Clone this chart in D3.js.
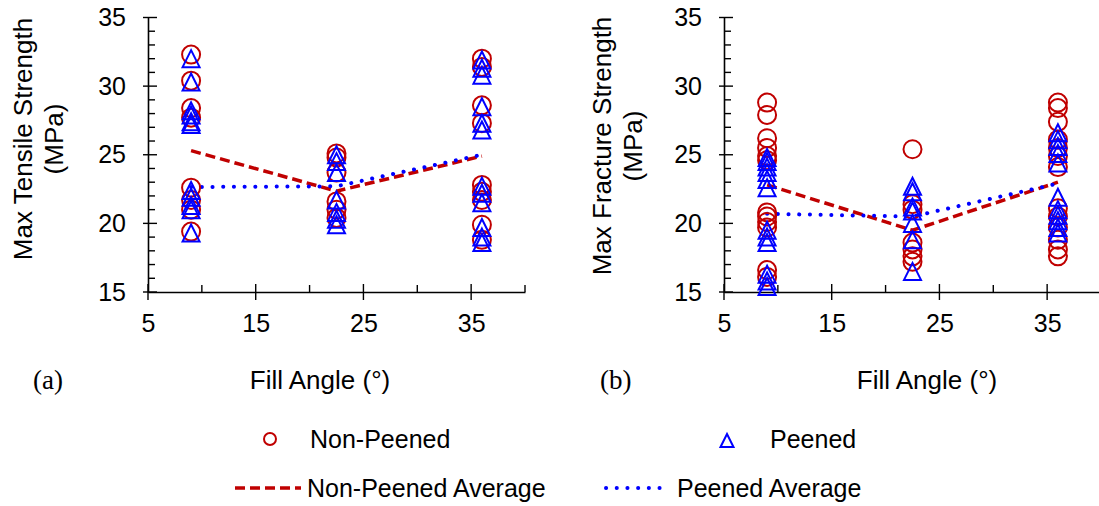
<!DOCTYPE html>
<html>
<head>
<meta charset="utf-8">
<script src="https://cdn.jsdelivr.net/npm/d3@7"></script>
<style>
	body { margin: 0; background: #fff; }
	svg text { font-family: "Liberation Sans", Arial, sans-serif; fill: #000; }
</style>
</head>
<body>
<svg id="chart" width="1099" height="506"></svg>
<script>
// Data: strengths (MPa) for each fill angle

var fillAngles = [9, 22.5, 36];
var xTicks = [5, 15, 25, 35];
var yTicks = [15, 20, 25, 30, 35];

	// (a) Max Tensile Strength
var tensileNonPeened = [
	[32.3, 30.4, 28.4, 27.7, 22.6, 21.7, 21.0, 19.4],
	[25.1, 24.8, 23.7, 21.6, 21.0, 20.4],
	[32.0, 31.4, 28.6, 27.3, 22.8, 22.3, 21.7, 19.9, 18.8]
];
var tensilePeened = [
	[32.0, 30.3, 28.2, 27.9, 27.4, 27.2, 22.4, 21.9, 21.3, 21.0, 19.3],
	[25.0, 24.5, 23.7, 21.7, 20.8, 20.3, 19.9],
	[31.9, 31.3, 30.8, 28.5, 27.3, 26.8, 22.7, 22.2, 21.5, 19.7, 19.0, 18.6]
];
var tensileNonPeenedAvg = [25.3, 22.35, 24.9];
var tensilePeenedAvg = [22.65, 22.7, 25.0];

	// (b) Max Fracture Strength
var fractureNonPeened = [
	[28.8, 27.9, 26.2, 25.5, 24.9, 24.6, 20.8, 20.5, 20.1, 19.7, 16.6, 16.1],
	[25.4, 21.4, 21.0, 18.6, 18.1, 17.6, 17.2],
	[28.8, 28.4, 27.4, 26.1, 25.5, 24.9, 24.1, 21.1, 20.5, 19.7, 18.8, 18.1, 17.6]
];
var fracturePeened = [
	[24.8, 24.5, 24.1, 23.7, 23.2, 22.6, 19.5, 19.0, 18.6, 16.3, 15.8, 15.4],
	[22.7, 22.3, 21.2, 20.9, 20.0, 18.8, 16.5],
	[26.6, 26.1, 25.6, 25.1, 24.4, 21.9, 21.0, 20.6, 20.2, 19.7, 19.3]
];
var fractureNonPeenedAvg = [22.8, 19.5, 23.0];
var fracturePeenedAvg = [20.7, 20.5, 22.9];

var RED = "#c00000", BLUE = "#0000ff";
var TRI = "M0,-8.5L8.5,8.5L-8.5,8.5Z";

var panels = [
	{ left: 148, right: 525, title: ["Max Tensile Strength", "(MPa)"], titleX: 32, titleY: 139,
	  xTitleX: 320, tag: "(a)", tagX: 33,
	  np: tensileNonPeened, p: tensilePeened, npAvg: tensileNonPeenedAvg, pAvg: tensilePeenedAvg },
	{ left: 724, right: 1101, title: ["Max Fracture Strength", "(MPa)"], titleX: 611, titleY: 146,
	  xTitleX: 927, tag: "(b)", tagX: 600,
	  np: fractureNonPeened, p: fracturePeened, npAvg: fractureNonPeenedAvg, pAvg: fracturePeenedAvg }
];

var svg = d3.select("#chart");

	// Flatten [angle][values] into {a, v} points
function flat(series)
{
	var out = [];
	series.forEach(function(vals, i) {
		vals.forEach(function(v) { out.push({ a: fillAngles[i], v: v }); });
	});
	return out;
} // flat()

function drawPanel(pn)
{
	var x = d3.scaleLinear().domain([5, 40]).range([pn.left, pn.right]);
	var y = d3.scaleLinear().domain([15, 35]).range([292, 17.5]);
	var g = svg.append("g");

		// Axes: labels + domain line from d3, ticks drawn below
	var yAxis = g.append("g").attr("transform", "translate(" + pn.left + ",0)")
		.call(d3.axisLeft(y).tickValues(yTicks).tickSize(0).tickPadding(22));
	var xAxis = g.append("g").attr("transform", "translate(0,292)")
		.call(d3.axisBottom(x).tickValues(xTicks).tickSize(0).tickPadding(22));
	[yAxis, xAxis].forEach(function(ax) {
		ax.select(".domain").attr("stroke", "#000").attr("stroke-width", 1.6);
		ax.selectAll("text").attr("font-size", 25).attr("font-family", "Liberation Sans, Arial, sans-serif").attr("fill", "#000");
	});
	xAxis.selectAll("text").attr("dy", "0.71em");

		// Minor + major ticks (major ones cross the axis)
	var yMinor = d3.range(16, 35, 1).filter(function(v) { return v % 5 !== 0; });
	g.selectAll(".ymin").data(yMinor).enter().append("line")
		.attr("x1", pn.left).attr("x2", pn.left + 7)
		.attr("y1", function(d) { return y(d); }).attr("y2", function(d) { return y(d); })
		.attr("stroke", "#000").attr("stroke-width", 1.4);
	g.selectAll(".ymaj").data(yTicks).enter().append("line")
		.attr("x1", pn.left - 5).attr("x2", pn.left + 9)
		.attr("y1", function(d) { return y(d); }).attr("y2", function(d) { return y(d); })
		.attr("stroke", "#000").attr("stroke-width", 1.4);
	g.selectAll(".xmin").data([10, 20, 30, 40]).enter().append("line")
		.attr("x1", function(d) { return x(d); }).attr("x2", function(d) { return x(d); })
		.attr("y1", 292).attr("y2", 285)
		.attr("stroke", "#000").attr("stroke-width", 1.4);
	g.selectAll(".xmaj").data(xTicks).enter().append("line")
		.attr("x1", function(d) { return x(d); }).attr("x2", function(d) { return x(d); })
		.attr("y1", 284).attr("y2", 300)
		.attr("stroke", "#000").attr("stroke-width", 1.4);

		// Average lines
	var line = d3.line().x(function(d, i) { return x(fillAngles[i]); }).y(function(d) { return y(d); });
	g.append("path").datum(pn.npAvg).attr("d", line)
		.attr("fill", "none").attr("stroke", RED).attr("stroke-width", 3.5)
		.attr("stroke-dasharray", "10 5");
	g.append("path").datum(pn.pAvg).attr("d", line)
		.attr("fill", "none").attr("stroke", BLUE).attr("stroke-width", 4)
		.attr("stroke-linecap", "round").attr("stroke-dasharray", "0.1 10.6");

		// Markers
	g.selectAll(".np").data(flat(pn.np)).enter().append("circle")
		.attr("cx", function(d) { return x(d.a); }).attr("cy", function(d) { return y(d.v); })
		.attr("r", 9).attr("fill", "none").attr("stroke", RED).attr("stroke-width", 2);
	g.selectAll(".p").data(flat(pn.p)).enter().append("path")
		.attr("d", TRI)
		.attr("transform", function(d) { return "translate(" + x(d.a) + "," + y(d.v) + ")"; })
		.attr("fill", "none").attr("stroke", BLUE).attr("stroke-width", 2);

		// Titles
	var t = g.append("text").attr("transform", "translate(" + pn.titleX + "," + pn.titleY + ") rotate(-90)")
		.attr("text-anchor", "middle").attr("font-size", 26);
	t.append("tspan").attr("x", 0).attr("y", 0).text(pn.title[0]);
	t.append("tspan").attr("x", 0).attr("y", 31).text(pn.title[1]);

	g.append("text").attr("x", pn.xTitleX).attr("y", 389).attr("text-anchor", "middle")
		.attr("font-size", 26).text("Fill Angle (°)");
	g.append("text").attr("x", pn.tagX).attr("y", 389).attr("font-size", 27)
		.style("font-family", "'Liberation Serif', 'Times New Roman', serif").text(pn.tag);
} // drawPanel()

panels.forEach(drawPanel);

	// Legend
var lg = svg.append("g").attr("font-size", 25);
lg.append("circle").attr("cx", 270).attr("cy", 439).attr("r", 6)
	.attr("fill", "none").attr("stroke", RED).attr("stroke-width", 2);
lg.append("text").attr("x", 310).attr("y", 448).text("Non-Peened");
lg.append("path").attr("d", "M0,-7L6.5,6L-6.5,6Z").attr("transform", "translate(727,441)")
	.attr("fill", "none").attr("stroke", BLUE).attr("stroke-width", 2);
lg.append("text").attr("x", 770).attr("y", 448).text("Peened");
lg.append("line").attr("x1", 235).attr("x2", 301).attr("y1", 488).attr("y2", 488)
	.attr("stroke", RED).attr("stroke-width", 3.5).attr("stroke-dasharray", "10 5");
lg.append("text").attr("x", 307).attr("y", 497).text("Non-Peened Average");
lg.append("line").attr("x1", 606).attr("x2", 670).attr("y1", 488).attr("y2", 488)
	.attr("stroke", BLUE).attr("stroke-width", 4).attr("stroke-linecap", "round")
	.attr("stroke-dasharray", "0.1 10.6");
lg.append("text").attr("x", 677).attr("y", 497).text("Peened Average");
</script>
</body>
</html>
